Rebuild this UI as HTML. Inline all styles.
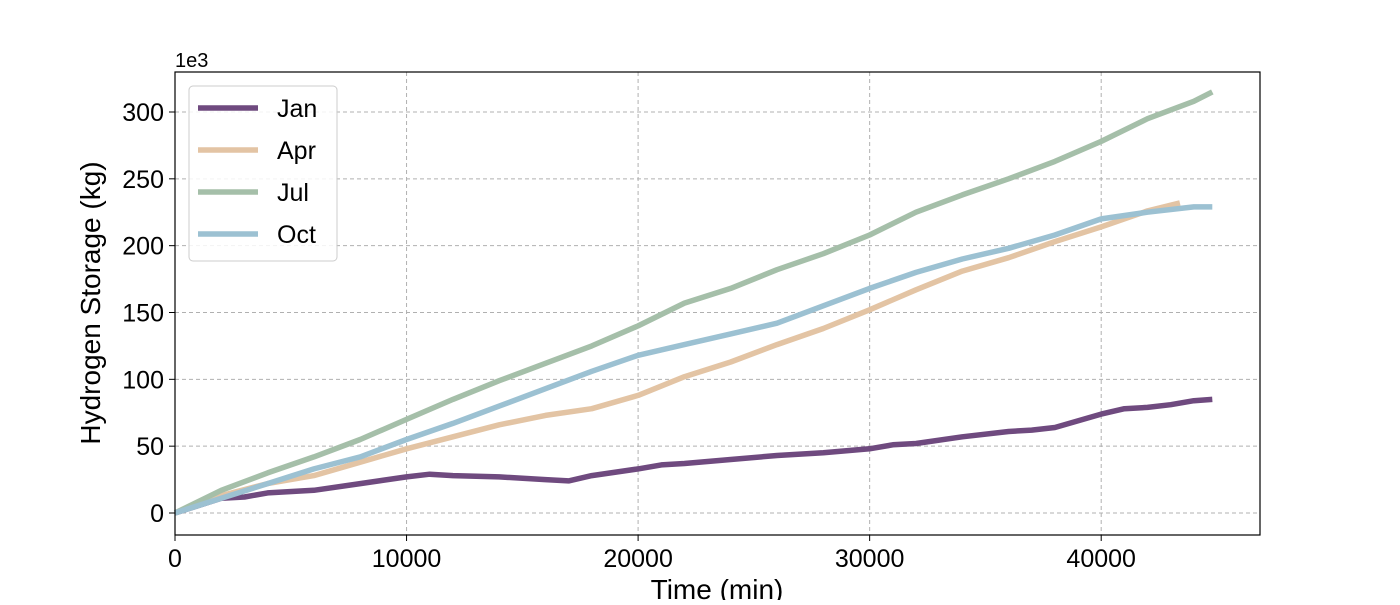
<!DOCTYPE html>
<html><head><meta charset="utf-8"><style>
body{margin:0;background:#fff;}
svg text{font-family:"Liberation Sans",sans-serif;fill:#000;}
</style></head><body>
<svg width="1400" height="600" xmlns="http://www.w3.org/2000/svg">
<g id="grid"></g>
<g id="lines"></g>
<rect x="175" y="72" width="1085" height="463" fill="none" stroke="#000" stroke-width="1.2"/>
<g id="ticks"></g>
<text x="175" y="67" font-size="20">1e3</text>
<text x="717" y="599" font-size="28" text-anchor="middle">Time (min)</text>
<text transform="translate(100,303) rotate(-90)" font-size="28" text-anchor="middle">Hydrogen Storage (kg)</text>
<g id="legend">
<rect x="189" y="86" width="148" height="175" rx="4" fill="#fff" fill-opacity="0.85" stroke="#ccc"/>
</g>
</svg>
<script>
const xTicks=[0,10000,20000,30000,40000];
const yTicks=[0,50,100,150,200,250,300];
const seriesNames=["Jan","Apr","Jul","Oct"];
const seriesColors=["#6f4a7f","#e3c4a4","#a5bfa9","#9cc1d2"];
const janT=[0,2000,3000,4000,6000,8000,10000,11000,12000,14000,16000,17000,18000,20000,21000,22000,24000,26000,28000,30000,31000,32000,34000,36000,37000,38000,40000,41000,42000,43000,44000,44800];
const janV=[0,11,12,15,17,22,27,29,28,27,25,24,28,33,36,37,40,43,45,48,51,52,57,61,62,64,74,78,79,81,84,85];
const aprT=[0,2000,4000,6000,8000,10000,12000,14000,16000,18000,20000,22000,24000,26000,28000,30000,32000,34000,36000,38000,40000,42000,43400];
const aprV=[0,13,22,28,38,48,57,66,73,78,88,102,113,126,138,152,167,181,191,203,214,226,232];
const julT=[0,2000,4000,6000,8000,10000,12000,14000,16000,18000,20000,22000,24000,26000,28000,30000,32000,34000,36000,38000,40000,42000,44000,44800];
const julV=[0,17,30,42,55,70,85,99,112,125,140,157,168,182,194,208,225,238,250,263,278,295,308,315];
const octT=[0,2000,4000,6000,8000,10000,12000,14000,16000,18000,20000,22000,24000,26000,28000,30000,32000,34000,36000,38000,40000,42000,44000,44800];
const octV=[0,11,22,33,42,55,67,80,93,106,118,126,134,142,155,168,180,190,198,208,220,225,229,229];
const NS="http://www.w3.org/2000/svg";
const X=t=>175+t*0.023155;
const Y=v=>513-v*1.3367;
function mk(tag,attrs,parent){const e=document.createElementNS(NS,tag);for(const k in attrs)e.setAttribute(k,attrs[k]);parent.appendChild(e);return e;}
const grid=document.getElementById('grid'),ticks=document.getElementById('ticks'),lines=document.getElementById('lines'),legend=document.getElementById('legend');
xTicks.forEach(t=>{
 const g=mk('line',{x1:X(t),x2:X(t),y1:72,y2:535,stroke:'#b0b0b0','stroke-dasharray':'4,3'},grid);
 
 
 const tk=mk('line',{x1:X(t),x2:X(t),y1:535,y2:541,stroke:'#000'},ticks);
 
 
 const lb=mk('text',{x:X(t),y:567,'font-size':25,'text-anchor':'middle'},ticks);lb.textContent=t;
 
 
});
yTicks.forEach(v=>{
 const g=mk('line',{x1:175,x2:1260,y1:Y(v),y2:Y(v),stroke:'#b0b0b0','stroke-dasharray':'4,3'},grid);
 
 
 const tk=mk('line',{x1:169,x2:175,y1:Y(v),y2:Y(v),stroke:'#000'},ticks);
 
 
 const lb=mk('text',{x:164,y:Y(v)+9,'font-size':25,'text-anchor':'end'},ticks);lb.textContent=v;
 
 
});
const data=[[janT,janV],[aprT,aprV],[julT,julV],[octT,octV]];
data.forEach((d,i)=>{
 const pts=d[0].map((t,j)=>X(t).toFixed(1)+','+Y(d[1][j]).toFixed(1)).join(' ');
 const p=mk('polyline',{points:pts,fill:'none',stroke:seriesColors[i],'stroke-width':5.5,'stroke-linejoin':'round'},lines);
 
 
 const ly=108+i*42;
 const ll=mk('line',{x1:198,x2:258,y1:ly,y2:ly,stroke:seriesColors[i],'stroke-width':5.5},legend);
 
 
 const lt=mk('text',{x:277,y:ly+9,'font-size':25},legend);lt.textContent=seriesNames[i];
 
 
});
</script>
</body></html>
